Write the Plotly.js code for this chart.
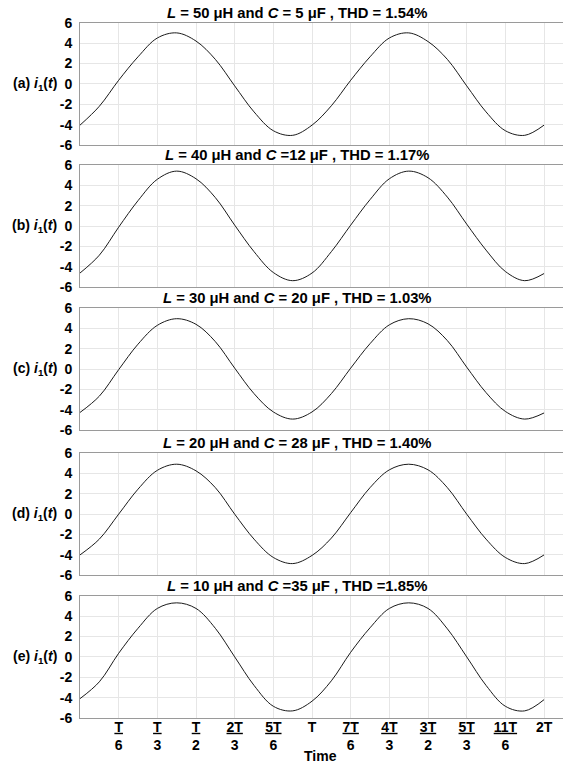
<!DOCTYPE html>
<html><head><meta charset="utf-8">
<script src="https://cdn.plot.ly/plotly-3.0.1.min.js"></script>
<style>html,body{margin:0;padding:0;background:#fff}#chart{width:563px;height:765px}</style>
</head><body><div id="chart"></div>
<script>
// time in units of T/6
const timeSixths = [0,0.5,1,1.5,2,2.5,3,3.5,4,4.5,5,5.5,6,6.5,7,7.5,8,8.5,9,9.5,10,10.5,11,11.5,12];
const iA = [-4.05,-2.2,0.35,2.65,4.5,5.0,4.2,2.4,-0.2,-2.75,-4.6,-5.05,-4.05,-2.15,0.35,2.65,4.5,5.0,4.15,2.4,-0.2,-2.75,-4.6,-5.05,-4.05];
const iB = [-4.6,-2.85,-0.1,2.5,4.6,5.4,4.65,2.8,0.1,-2.5,-4.55,-5.35,-4.6,-2.5,0.1,2.6,4.65,5.4,4.75,2.85,0.2,-2.35,-4.45,-5.35,-4.65];
const iC = [-4.25,-2.65,-0.05,2.45,4.3,4.95,4.4,2.7,0.1,-2.4,-4.2,-4.9,-4.2,-2.4,0.1,2.5,4.35,4.95,4.45,2.8,0.2,-2.3,-4.15,-4.9,-4.3];
const iD = [-4.0,-2.45,0,2.45,4.3,4.9,4.25,2.6,0,-2.45,-4.25,-4.85,-4.05,-2.35,0.15,2.6,4.35,4.9,4.35,2.6,0,-2.45,-4.25,-4.85,-4.0];
const iE = [-4.1,-2.45,0.35,2.8,4.75,5.3,4.75,2.8,0,-2.8,-4.85,-5.3,-4.35,-2.35,0.45,2.85,4.75,5.3,4.75,2.75,0,-2.8,-4.85,-5.3,-4.2];
const panelLabels = ['(a)','(b)','(c)','(d)','(e)'];
const panelTitles = [
  '<i>L</i> = 50 μH and <i>C</i> = 5 μF , THD = 1.54%',
  '<i>L</i> = 40 μH and <i>C</i> =12 μF , THD = 1.17%',
  '<i>L</i> = 30 μH and <i>C</i> = 20 μF , THD = 1.03%',
  '<i>L</i> = 20 μH and <i>C</i> = 28 μF , THD = 1.40%',
  '<i>L</i> = 10 μH and <i>C</i> =35 μF , THD =1.85%'
];
const tickVals = [1,2,3,4,5,6,7,8,9,10,11,12];
const tickNumerators = ['T','T','T','2T','5T','T','7T','4T','3T','5T','11T','2T'];
const tickDenominators = ['6','3','2','3','6','','6','3','2','3','6',''];
const yTicks = [-6,-4,-2,0,2,4,6];
const xLabel = 'Time';

const series = [iA,iB,iC,iD,iE];
const W = 563, H = 765;
const tops = [22.7,165,308,453,595.7];
const ph = 122.3;
const FONT = 'Liberation Sans, Arial, sans-serif';

const data = [];
const layout = {
  width: W, height: H,
  margin: {l:80, r:0, t:0, b:0},
  paper_bgcolor:'#fff', plot_bgcolor:'#fff',
  showlegend:false,
  font:{family:FONT, size:14, color:'#000'},
  annotations:[]
};
const tickText = tickNumerators.map((n,i)=> tickDenominators[i]
  ? '<b><u>'+n+'</u><br>'+tickDenominators[i]+'</b>' : '<b>'+n+'</b>');

series.forEach((s,k)=>{
  const n = k+1;
  const xa = 'xaxis'+(n===1?'':n), ya = 'yaxis'+(n===1?'':n);
  const xr = 'x'+(n===1?'':n), yr = 'y'+(n===1?'':n);
  data.push({x:timeSixths, y:s, xaxis:xr, yaxis:yr, type:'scatter', mode:'lines',
    line:{color:'#1a1a1a', width:1, shape:'spline', smoothing:1}, hoverinfo:'skip'});
  layout[xa] = {anchor:yr, domain:[0,1], range:[0,12.49], tickvals:tickVals,
    ticktext:tickText, showticklabels:(n===5), ticks:'', showgrid:true, gridcolor:'#e6e6e6',
    gridwidth:1, zeroline:false, showline:true, mirror:true, linecolor:'#9a9a9a', linewidth:1,
    tickfont:{family:FONT, size:14, color:'#000'}, ticklabelstandoff:-4};
  layout[ya] = {anchor:xr, domain:[1-(tops[k]+ph)/H, 1-tops[k]/H], range:[-6,6],
    tickvals:yTicks, ticktext:yTicks.map(v=>'<b>'+v+'</b>'), ticks:'', showgrid:true,
    gridcolor:'#e6e6e6', zeroline:false, showline:true, mirror:false, linecolor:'#9a9a9a',
    linewidth:1, tickfont:{family:FONT, size:14, color:'#000'}, ticklabelstandoff:4};
  layout.annotations.push({xref:'paper', yref:yr+' domain', x:(297-80)/(W-80), y:1,
    xanchor:'center', yanchor:'bottom', yshift:0, showarrow:false,
    text:'<b>'+panelTitles[k]+'</b>', font:{family:FONT, size:14.8, color:'#000'}});
  layout.annotations.push({xref:'paper', yref:yr, x:0, y:0, xanchor:'right', yanchor:'middle',
    xshift:-21, showarrow:false,
    text:'<b>'+panelLabels[k]+' <i>i</i><sub>1</sub>(<i>t</i>)</b>',
    font:{family:FONT, size:14, color:'#000'}});
});
layout.annotations.push({xref:'paper', yref:'paper', x:(320-80)/(W-80), y:0,
  xanchor:'center', yanchor:'bottom', borderpad:0, showarrow:false, text:'<b>'+xLabel+'</b>',
  font:{family:FONT, size:14, color:'#000'}});

Plotly.newPlot('chart', data, layout, {staticPlot:true, displayModeBar:false});
</script></body></html>
